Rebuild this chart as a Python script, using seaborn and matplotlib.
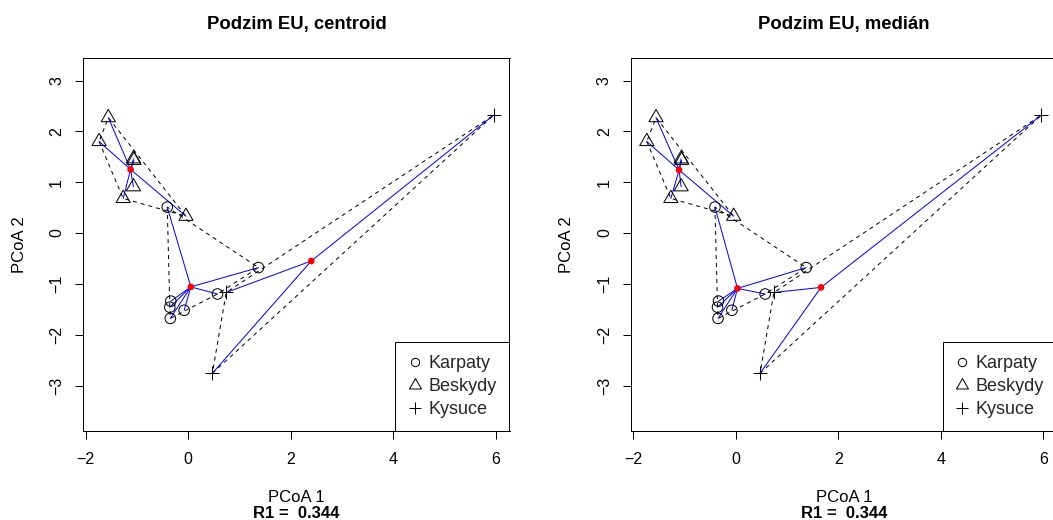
import numpy as np
import matplotlib
matplotlib.use("Agg")
import matplotlib.pyplot as plt
import seaborn as sns
import pandas as pd
from matplotlib.path import Path
from matplotlib.lines import Line2D

# ---------------- data ----------------
groups = ["Karpaty", "Beskydy", "Kysuce"]

karpaty_x = [-0.41, 1.37, 0.57, -0.34, -0.36, -0.08, -0.35]
karpaty_y = [0.51, -0.68, -1.20, -1.34, -1.46, -1.52, -1.68]

beskydy_x = [-1.56, -1.74, -1.07, -1.06, -1.07, -1.27, -0.045]
beskydy_y = [2.27, 1.80, 1.46, 1.43, 0.91, 0.68, 0.33]

kysuce_x = [5.96, 0.74, 0.47]
kysuce_y = [2.32, -1.17, -2.76]

centroid_x = [0.05, -1.125, 2.40]
centroid_y = [-1.06, 1.25, -0.55]

median_x = [0.03, -1.11, 1.66]
median_y = [-1.09, 1.24, -1.07]

panel_titles = ["Podzim EU, centroid", "Podzim EU, medián"]
x_ticks = [-2, 0, 2, 4, 6]
y_ticks = [-3, -2, -1, 0, 1, 2, 3]
x_label = "PCoA 1"
y_label = "PCoA 2"
sub_label = "R1 =  0.344"

# ---------------- styling ----------------
sns.set_theme(style="white")
plt.rcParams["font.family"] = ["Liberation Sans", "DejaVu Sans"]
plt.rcParams["axes.unicode_minus"] = True

W, H = 1053, 520
PX = 0.72  # points per pixel at dpi 100

tri = Path([(0, 1.5551), (-1.3468, -0.7776), (1.3468, -0.7776), (0, 1.5551)],
           [Path.MOVETO, Path.LINETO, Path.LINETO, Path.CLOSEPOLY])

marker_spec = {
    "Karpaty": dict(marker="o", size=7.6),
    "Beskydy": dict(marker=tri, size=11.8),
    "Kysuce": dict(marker="+", size=10.7),
}

site_x = {"Karpaty": karpaty_x, "Beskydy": beskydy_x, "Kysuce": kysuce_x}
site_y = {"Karpaty": karpaty_y, "Beskydy": beskydy_y, "Kysuce": kysuce_y}

df = pd.concat([
    pd.DataFrame({"x": site_x[g], "y": site_y[g], "group": g}) for g in groups
], ignore_index=True)


def convex_hull(pts):
    pts = sorted(set(map(tuple, pts)))
    if len(pts) <= 2:
        return pts

    def cross(o, a, b):
        return (a[0] - o[0]) * (b[1] - o[1]) - (a[1] - o[1]) * (b[0] - o[0])

    lower, upper = [], []
    for p in pts:
        while len(lower) >= 2 and cross(lower[-2], lower[-1], p) <= 0:
            lower.pop()
        lower.append(p)
    for p in reversed(pts):
        while len(upper) >= 2 and cross(upper[-2], upper[-1], p) <= 0:
            upper.pop()
        upper.append(p)
    return lower[:-1] + upper[:-1]


fig = plt.figure(figsize=(W / 100, H / 100), dpi=100)

box_left_px = 83.3
box_right_px = 509.5
box_top_px = 58.3
box_bot_px = 431.0
panel_offset_px = 547.7

# x limits: data range with 4 % padding (R style)
xmin, xmax = df["x"].min(), df["x"].max()
pad = 0.04 * (xmax - xmin)
xlim = (xmin - pad, xmax + pad)
ylim = (-3.895, 3.437)

centers = [(centroid_x, centroid_y), (median_x, median_y)]

for i in range(2):
    l = box_left_px + i * panel_offset_px
    ax = fig.add_axes([l / W, 1 - box_bot_px / H,
                       (box_right_px - box_left_px) / W,
                       (box_bot_px - box_top_px) / H])
    cx, cy = centers[i]

    for gi, g in enumerate(groups):
        pts = list(zip(site_x[g], site_y[g]))
        hull = convex_hull(pts)
        hx = [p[0] for p in hull] + [hull[0][0]]
        hy = [p[1] for p in hull] + [hull[0][1]]
        ax.plot(hx, hy, color="black", lw=1.0 * PX, ls=(0, (4, 4)), zorder=2)
        for px_, py_ in pts:
            ax.plot([cx[gi], px_], [cy[gi], py_], color="#0000FF", lw=1.0 * PX, zorder=3)

    sns.scatterplot(x=cx, y=cy, ax=ax, color="#FF0000", s=4.8 ** 2,
                    edgecolor="none", legend=False, zorder=4)

    for g in groups:
        sub = df[df["group"] == g]
        spec = marker_spec[g]
        if g == "Kysuce":
            sns.scatterplot(data=sub, x="x", y="y", ax=ax, marker=spec["marker"],
                            s=spec["size"] ** 2, color="black", linewidth=1.0 * PX,
                            legend=False, zorder=5)
        else:
            sns.scatterplot(data=sub, x="x", y="y", ax=ax, marker=spec["marker"],
                            s=spec["size"] ** 2, facecolor="none", edgecolor="black",
                            linewidth=1.0 * PX, legend=False, zorder=5)

    ax.set_xlim(xlim)
    ax.set_ylim(ylim)
    ax.set_xticks(x_ticks)
    ax.set_yticks(y_ticks)
    ax.set_xlabel("")
    ax.set_ylabel("")
    ax.grid(False)
    for sp in ax.spines.values():
        sp.set_visible(True)
        sp.set_color("black")
        sp.set_linewidth(1.0 * PX)
    ax.tick_params(axis="both", which="both", bottom=True, left=True, top=False,
                   right=False, direction="out", length=8 * PX, width=1.0 * PX,
                   colors="black", labelsize=11.5)
    ax.tick_params(axis="x", pad=9)
    ax.tick_params(axis="y", pad=8)
    for lab in ax.get_yticklabels():
        lab.set_rotation(90)
        lab.set_va("center")

    handles = [
        Line2D([], [], ls="none", marker="o", ms=6.0, mfc="none", mec="black", mew=1.0 * PX),
        Line2D([], [], ls="none", marker=tri, ms=10.0, mfc="none", mec="black", mew=1.0 * PX),
        Line2D([], [], ls="none", marker="+", ms=9.0, color="black", mew=1.0 * PX),
    ]
    leg = ax.legend(handles, groups, loc="lower right", bbox_to_anchor=(1, 0),
                    borderaxespad=0, fontsize=13, frameon=True, fancybox=False,
                    framealpha=1, facecolor="white", edgecolor="black",
                    handlelength=0.7, handletextpad=0.4, borderpad=0.72,
                    labelspacing=0.32)
    leg.get_frame().set_linewidth(1.0 * PX)
    leg.set_zorder(10)

    xc = (l + (box_right_px - box_left_px) / 2) / W
    fig.text(xc, 1 - 29.3 / H, panel_titles[i], ha="center", va="baseline",
             fontsize=13.3, fontweight="bold", color="black")
    fig.text(xc, 1 - 502 / H, x_label, ha="center", va="baseline",
             fontsize=12, color="black")
    fig.text(xc, 1 - 518.5 / H, sub_label, ha="center", va="baseline",
             fontsize=12, fontweight="bold", color="black")
    fig.text((19 + i * panel_offset_px) / W, 1 - (box_top_px + box_bot_px) / 2 / H,
             y_label, ha="center", va="center", rotation=90, fontsize=12, color="black")

fig.savefig("out.png", dpi=100)
